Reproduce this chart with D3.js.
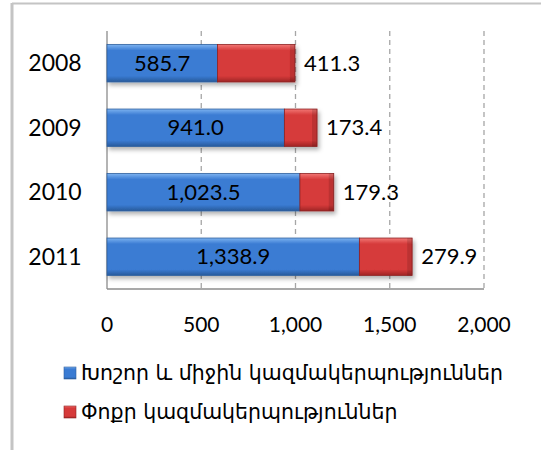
<!DOCTYPE html>
<html>
<head>
<meta charset="utf-8">
<script src="https://cdn.jsdelivr.net/npm/d3@7"></script>
<style>
  body { margin: 0; background: #fff; }
  svg { display: block; }
  text { font-family: Lato, "DejaVu Sans", sans-serif; fill: #000; }
  .legend text { font-family: "DejaVu Sans", sans-serif; }
</style>
</head>
<body>
<svg id="chart" width="541" height="450"></svg>
<script>
// données
const years = ["2008", "2009", "2010", "2011"];
const large = [585.7, 941.0, 1023.5, 1338.9];
const small = [411.3, 173.4, 179.3, 279.9];
const ticks = [0, 500, 1000, 1500, 2000];
const seriesNames = ["Խոշոր և միջին կազմակերպություններ", "Փոքր կազմակերպություններ"];

const svg = d3.select("#chart");
const margin = { left: 107, right: 57, top: 31, bottom: 161 };
const W = 541, H = 450;

const x = d3.scaleLinear().domain([0, 2000]).range([margin.left, W - margin.right]);
const y = d3.scaleBand().domain(years).range([margin.top, H - margin.bottom]).paddingInner(0.42).paddingOuter(0.21);

const fmt = d3.format(",.1f");

// cadre gris
svg.append("line").attr("x1", 12).attr("x2", 12).attr("y1", 3).attr("y2", H)
    .style("stroke", "#c4c4c4").style("stroke-width", 3);
svg.append("line").attr("x1", 12).attr("x2", W).attr("y1", 3.5).attr("y2", 3.5)
    .style("stroke", "#c4c4c4").style("stroke-width", 2);

// dégradés pour l'effet relief
const defs = svg.append("defs");
function grad(id, c1, c2, c3) {
    const g = defs.append("linearGradient").attr("id", id).attr("x1", 0).attr("x2", 0).attr("y1", 0).attr("y2", 1);
    g.append("stop").attr("offset", "0%").attr("stop-color", c1);
    g.append("stop").attr("offset", "16%").attr("stop-color", c2);
    g.append("stop").attr("offset", "84%").attr("stop-color", c2);
    g.append("stop").attr("offset", "100%").attr("stop-color", c3);
}
grad("gBlue", "#7db3f0", "#3a7bd3", "#285a9a");
grad("gRed", "#f27775", "#d63a3a", "#9e2424");
const f = defs.append("filter").attr("id", "shadow").attr("x", "-5%").attr("y", "-10%").attr("width", "115%").attr("height", "140%");
f.append("feDropShadow").attr("dx", 2).attr("dy", 3).attr("stdDeviation", 2).attr("flood-color", "#000").attr("flood-opacity", 0.3);

// grille pointillée
svg.append("g").selectAll("line").data(ticks.slice(1)).enter().append("line")
    .attr("x1", d => x(d)).attr("x2", d => x(d))
    .attr("y1", margin.top).attr("y2", H - margin.bottom)
    .style("stroke", "#a6a6a6").style("stroke-width", 1.3).style("stroke-dasharray", "5,4");

// axes
svg.append("line").attr("x1", x(0)).attr("x2", x(0)).attr("y1", margin.top).attr("y2", H - margin.bottom)
    .style("stroke", "#8c8c8c").style("stroke-width", 1.3);
svg.append("line").attr("x1", x(0)).attr("x2", x(2000)).attr("y1", H - margin.bottom).attr("y2", H - margin.bottom)
    .style("stroke", "#8c8c8c").style("stroke-width", 1.3);

svg.append("g").selectAll("text").data(ticks).enter().append("text")
    .attr("x", d => x(d)).attr("y", 325).attr("dy", "0.35em")
    .attr("text-anchor", "middle").style("font-size", "21px")
    .text(d => d3.format(",")(d));

svg.append("g").selectAll("text").data(years).enter().append("text")
    .attr("x", 55).attr("y", d => y(d) + y.bandwidth() / 2).attr("dy", "0.35em")
    .attr("text-anchor", "middle").style("font-size", "23px")
    .text(d => d);

// barres
const rows = years.map((yr, i) => ({ yr: yr, a: large[i], b: small[i] }));
const bars = svg.append("g").selectAll("g").data(rows).enter().append("g").attr("filter", "url(#shadow)");
bars.append("rect")
    .attr("x", x(0)).attr("y", d => y(d.yr)).attr("width", d => x(d.a) - x(0)).attr("height", y.bandwidth())
    .style("fill", "url(#gBlue)").style("stroke", "#2f5f9e").style("stroke-width", 0.8);
bars.append("rect")
    .attr("x", d => x(d.a)).attr("y", d => y(d.yr)).attr("width", d => x(d.a + d.b) - x(d.a)).attr("height", y.bandwidth())
    .style("fill", "url(#gRed)").style("stroke", "#8e2222").style("stroke-width", 0.8);
bars.append("rect")
    .attr("x", d => x(d.a + d.b) - 5).attr("y", d => y(d.yr)).attr("width", 5).attr("height", y.bandwidth())
    .style("fill", "#000").style("opacity", 0.12);

// étiquettes
svg.append("g").selectAll("text").data(rows).enter().append("text")
    .attr("x", d => (x(0) + x(d.a)) / 2).attr("y", d => y(d.yr) + y.bandwidth() / 2).attr("dy", "0.35em")
    .attr("text-anchor", "middle").style("font-size", "22px")
    .text(d => fmt(d.a));
svg.append("g").selectAll("text").data(rows).enter().append("text")
    .attr("x", d => x(d.a + d.b) + 9).attr("y", d => y(d.yr) + y.bandwidth() / 2).attr("dy", "0.35em")
    .style("font-size", "22px")
    .text(d => fmt(d.b));

// légende
const leg = svg.append("g").attr("class", "legend");
const legColors = ["url(#gBlue)", "url(#gRed)"];
const legY = [373, 412];
seriesNames.forEach((name, i) => {
    leg.append("rect").attr("x", 64).attr("y", legY[i] - 6).attr("width", 12).attr("height", 12)
        .style("fill", legColors[i]).style("stroke", i == 0 ? "#2f5f9e" : "#8e2222").style("stroke-width", 0.6);
    leg.append("text").attr("x", 81).attr("y", legY[i]).attr("dy", "0.35em")
        .style("font-size", "20.5px").text(name);
});
</script>
</body>
</html>
